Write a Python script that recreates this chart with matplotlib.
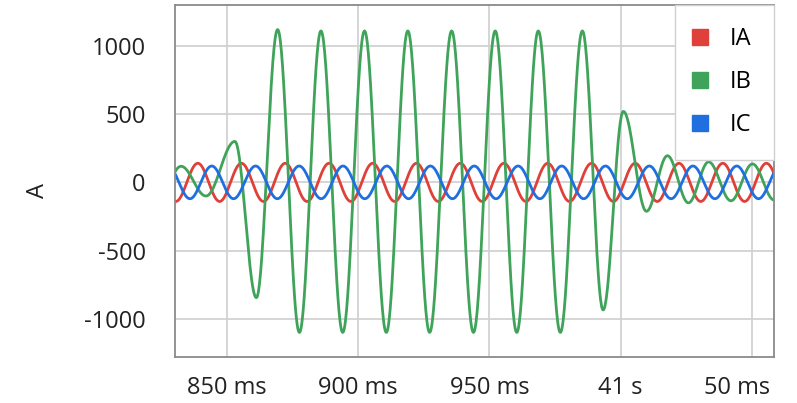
import numpy as np
import matplotlib
matplotlib.use("Agg")
import matplotlib.pyplot as plt
from matplotlib.lines import Line2D
from matplotlib.transforms import ScaledTranslation

plt.rcParams['font.family'] = ['Open Sans', 'DejaVu Sans']

# ---- data (times in ms after 40 s, currents in A) ----
tick_pos = [850, 900, 950, 1000, 1050]
tick_labels = ['850 ms', '900 ms', '950 ms', '41 s', '50 ms']
y_ticks = [-1000, -500, 0, 500, 1000]

# waveform extrema (alternating peak / trough)
IA_times = [822.2, 830.5, 838.9, 847.2, 855.5, 863.9, 872.2, 880.5, 888.9, 897.2,
            905.5, 913.9, 922.2, 930.5, 938.9, 947.2, 955.5, 963.9, 972.2, 980.5,
            988.9, 997.2, 1005.5, 1013.9, 1022.2, 1030.5, 1038.9, 1047.2, 1055.5, 1063.9]
IA_values = [140, -140, 140, -140, 140, -140, 140, -140, 140, -140,
             140, -140, 140, -140, 140, -140, 140, -140, 140, -140,
             140, -140, 140, -140, 140, -140, 140, -140, 140, -140]

IC_times = [819.2, 827.5, 835.9, 844.2, 852.5, 860.9, 869.2, 877.5, 885.9, 894.2,
            902.5, 910.9, 919.2, 927.5, 935.9, 944.2, 952.5, 960.9, 969.2, 977.5,
            985.9, 994.2, 1002.5, 1010.9, 1019.2, 1027.5, 1035.9, 1044.2, 1052.5, 1060.9]
IC_values = [-120, 120, -120, 120, -120, 120, -120, 120, -120, 120,
             -120, 120, -120, 120, -120, 120, -120, 120, -120, 120,
             -120, 120, -120, 120, -120, 120, -120, 120, -120, 120]

IB_times = [824.2, 832.5, 842.0, 853.0, 861.2, 869.3, 877.6, 885.8, 894.1, 902.4,
            910.7, 918.9, 927.2, 935.6, 943.9, 952.2, 960.4, 968.6, 977.0, 985.4,
            993.3, 1001.0, 1009.8, 1017.8, 1025.8, 1033.5, 1042.0, 1050.2, 1058.5, 1067.0]
IB_values = [-110, 118, -100, 300, -845, 1120, -1100, 1110, -1100, 1110,
             -1100, 1110, -1100, 1110, -1100, 1110, -1100, 1110, -1100, 1110,
             -935, 520, -212, 195, -150, 150, -135, 135, -130, 130]

series = [('IA', IA_times, IA_values, '#e0403a'),
          ('IB', IB_times, IB_values, '#3fa35a'),
          ('IC', IC_times, IC_values, '#1f6fe0')]


def smooth_wave(times, values, n=40):
    """Draw half-cosine segments between consecutive extrema."""
    ts, vs = [], []
    for i in range(len(times) - 1):
        t0, t1 = times[i], times[i + 1]
        v0, v1 = values[i], values[i + 1]
        u = np.linspace(0, 1, n, endpoint=False)
        ts.append(t0 + (t1 - t0) * u)
        vs.append((v0 + v1) / 2 + (v0 - v1) / 2 * np.cos(np.pi * u))
    ts.append([times[-1]])
    vs.append([values[-1]])
    return np.concatenate(ts), np.concatenate(vs)


fig = plt.figure(figsize=(7.97, 4.03), dpi=100)
ax = fig.add_axes([175 / 797, 46 / 403, 599 / 797, 352 / 403])

for name, t, v, c in series:
    x, y = smooth_wave(t, v)
    ax.plot(x, y, color=c, lw=2.0, label=name, solid_joinstyle='round')

ax.set_xlim(830.2, 1058.4)
ax.set_ylim(-1280, 1300)
ax.set_xticks(tick_pos)
ax.set_xticklabels(tick_labels)
ax.set_yticks(y_ticks)
ax.set_yticklabels([str(v) for v in y_ticks])
ax.tick_params(axis='both', length=0, labelsize=17, colors='#222222')
ax.tick_params(axis='y', pad=21)
ax.tick_params(axis='x', pad=14)
ax.grid(True, color='#d2d2d2', lw=1.3)
ax.set_axisbelow(True)
for s in ax.spines.values():
    s.set_color('#8a8a8a')
    s.set_linewidth(1.3)

# last x label is pulled inside the figure, as in the reference
last = ax.xaxis.get_major_ticks()[-1].label1
last.set_transform(last.get_transform() + ScaledTranslation(-0.15, 0, fig.dpi_scale_trans))

ax.set_ylabel('A', fontsize=17, color='#222222')
ax.yaxis.set_label_coords(-(175 - 50) / 599, (357 - 190) / 352)

handles = [Line2D([], [], marker='s', ls='none', markersize=12,
                  markerfacecolor=c, markeredgecolor=c) for _, _, _, c in series]
leg = ax.legend(handles, [s[0] for s in series], loc='upper right',
                borderaxespad=0, fontsize=17, frameon=True, fancybox=False,
                handletextpad=1.15, labelspacing=0.8, borderpad=0.95,
                handlelength=0.2)
leg.get_frame().set_edgecolor('#d0d0d0')
leg.get_frame().set_facecolor('white')
leg.get_frame().set_alpha(1.0)
leg.get_frame().set_linewidth(1.0)

fig.savefig('out.png', dpi=100)
